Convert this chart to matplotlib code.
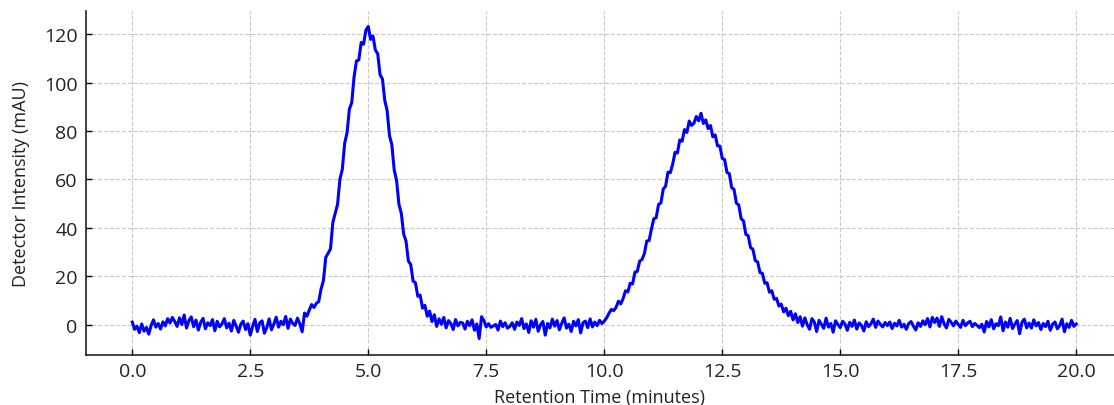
import numpy as np
import matplotlib

matplotlib.use("Agg")
from matplotlib import pyplot as plt

plt.rcParams["font.family"] = ["Open Sans", "DejaVu Sans"]

# detector trace, one value every 0.05 min (rows = 1 minute)
intensity = [
    1.2, -1.8, -0.5, -3.2, 0.4, -2.6, -1.0, -3.8, -0.2, 2.1, -0.9, 0.6, -1.7, 1.3, -0.4, 2.6, 0.8, 3.1, 1.4, -0.6,
    2.9, 0.2, 4.1, -1.3, 1.8, 3.3, -0.7, 2.0, -2.1, 1.1, 2.7, -1.6, 0.9, -0.3, 2.2, -2.4, 1.5, -0.8, 0.4, 2.6,
    -1.2, 0.7, -2.5, 1.9, -0.4, -3.0, 0.3, 1.6, -1.9, 0.5, -4.2, -0.6, 2.3, -2.7, 0.8, 1.7, -3.4, -1.1, 2.5, -2.0,
    0.4, 3.2, -0.9, 1.5, 0.1, 3.5, -1.4, 2.4, 0.6, -0.2, 2.8, 0.5, -2.8, 4.9, 3.6, 6.1, 8.4, 7.2, 8.9, 9.6,
    14.8, 18.3, 27.9, 29.6, 31.4, 42.3, 46.1, 49.8, 60.2, 64.1, 74.9, 79.2, 89.0, 91.7, 102.4, 108.9, 109.3, 116.5, 115.8, 121.6,
    123.1, 117.8, 119.2, 113.4, 111.9, 103.2, 101.5, 92.6, 88.4, 78.1, 74.3, 63.9, 59.6, 49.8, 46.1, 37.5, 34.6, 26.4, 24.9, 18.1,
    17.4, 11.8, 12.3, 6.9, 8.1, 3.6, 5.7, 1.4, 4.2, -0.6, 2.5, 0.3, 3.1, -1.2, 1.8, 0.6, -1.9, 2.2, -0.4, 1.1,
    0.8, -1.7, 1.5, -0.3, 2.1, -2.2, 0.4, -5.6, 3.4, 1.8, -0.8, 0.5, -1.0, -0.4, 0.2, -2.1, 1.6, -0.7, 0.9, -1.3,
    -0.6, 0.9, -1.8, 1.2, -0.2, 2.6, -1.5, 0.4, -3.1, 1.7, -0.9, 2.3, -2.6, 0.1, 1.4, -4.2, 0.6, -1.2, 2.4, -0.5,
    1.8, -2.0, 0.7, 2.9, -1.3, 0.3, -2.7, 1.5, -0.4, 2.2, -3.3, 0.9, 1.6, -1.1, 2.5, -0.8, 1.2, -0.3, 1.9, 0.6,
    1.6, 2.9, 4.8, 6.4, 5.9, 7.2, 9.8, 8.7, 10.9, 14.1, 13.6, 17.2, 16.9, 21.8, 22.1, 26.3, 27.0, 29.4, 34.6, 34.8,
    39.6, 43.8, 44.2, 49.7, 50.3, 56.1, 57.2, 63.0, 62.8, 66.4, 71.2, 70.9, 76.3, 75.8, 80.6, 79.4, 84.1, 82.3, 83.2, 86.0,
    84.2, 87.3, 83.1, 84.6, 81.0, 82.3, 77.6, 78.4, 73.9, 73.8, 68.7, 68.2, 62.9, 62.4, 56.6, 55.9, 50.2, 49.5, 43.8, 42.9,
    37.4, 36.8, 31.9, 31.2, 26.5, 26.0, 21.6, 21.3, 17.2, 17.4, 13.5, 14.1, 10.6, 11.0, 7.8, 8.6, 5.4, 6.9, 3.8, 5.6,
    2.1, 4.6, 1.0, 3.4, -0.5, 2.9, 0.1, -1.8, 2.6, 1.2, -2.7, 1.9, 0.3, -1.4, 2.8, -0.9, 0.6, -3.0, 1.7, 0.2,
    -1.1, 1.5, 0.4, -2.2, 1.1, -0.6, 2.0, -1.7, 0.8, -0.2, -2.5, 1.3, -0.7, 0.5, 2.4, -1.0, 1.6, 0.2, -0.8, 1.0,
    -0.3, 1.2, -1.5, 0.7, -0.4, 1.9, -0.9, 0.3, -1.8, 0.6, 1.4, -0.5, -2.1, 0.9, -0.6, 1.7, 0.1, 2.6, -0.8, 3.1,
    1.0, 2.8, -0.6, 3.4, 0.5, -1.2, 2.3, 1.1, -0.4, 1.6, 0.2, -1.0, 1.9, -0.3, 0.8, 1.5, -0.7, 0.6, -0.2, -1.1,
    0.3, -2.9, 1.4, -0.8, 2.2, -1.6, 0.5, -0.3, 3.3, -2.4, 1.2, -0.9, 2.7, -1.5, 0.4, 1.8, -3.6, 1.1, 2.4, -1.2,
    0.8, -1.3, 2.1, -0.4, 1.0, -1.9, 0.6, -0.7, 1.5, -2.2, 0.3, 1.2, -1.6, -0.2, 2.4, -2.8, 0.5, -1.0, 1.9, -0.6,
    0.4,
]
run_start, run_end = 0.0, 20.0
x_ticks = [0.0, 2.5, 5.0, 7.5, 10.0, 12.5, 15.0, 17.5, 20.0]
y_ticks = [0, 20, 40, 60, 80, 100, 120]

times = np.linspace(run_start, run_end, len(intensity))

fig = plt.figure(figsize=(11.14, 4.06), dpi=100)
fig.patch.set_facecolor("white")
ax = fig.add_axes([86 / 1114, 50 / 406, 1028 / 1114, 344 / 406])

ax.plot(times, intensity, color="#0000ff", linewidth=2.2)

text_color = "#222222"
ax.set_xlim(-0.98, 20.8)
ax.set_ylim(-12.4, 129.5)
ax.set_xticks(x_ticks)
ax.set_yticks(y_ticks)
ax.set_xticklabels([f"{t:.1f}" for t in x_ticks])
ax.set_xlabel("Retention Time (minutes)", fontsize=13, labelpad=6, color=text_color)
ax.set_ylabel("Detector Intensity (mAU)", fontsize=13, labelpad=10, color=text_color)
ax.tick_params(axis="both", direction="in", labelsize=14, length=4, width=1, labelcolor=text_color)
ax.tick_params(axis="x", pad=5)
ax.tick_params(axis="y", pad=6)

for side in ("top", "right"):
    ax.spines[side].set_visible(False)
for side in ("left", "bottom"):
    ax.spines[side].set_linewidth(1.2)
    ax.spines[side].set_color(text_color)

ax.grid(True, color="#c8c8c8", linestyle="--", linewidth=0.8)
ax.set_axisbelow(True)

fig.savefig("out.png", dpi=100)
plt.close(fig)
